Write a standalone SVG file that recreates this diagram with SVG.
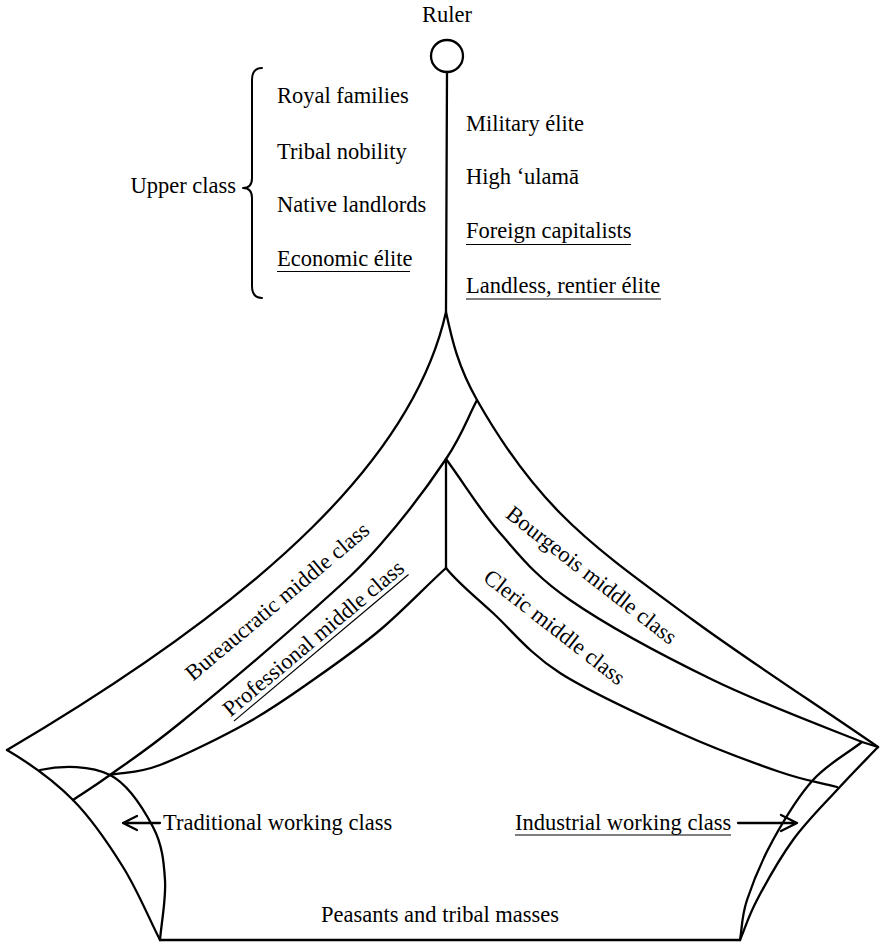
<svg xmlns="http://www.w3.org/2000/svg" width="880" height="943" viewBox="0 0 880 943">
<style>
.ln{fill:none;stroke:#000;stroke-width:2.3;stroke-linecap:round;stroke-linejoin:round}
.ul{stroke:#000;stroke-width:1.2}
text{font-family:"Liberation Serif","Times New Roman",serif;font-size:22.5px;fill:#000}
</style>
<rect width="880" height="943" fill="#fff"/>
<g id="connectors">
<path id="stem" class="ln" d="M447,72 L446,312"/>
<path id="stem2" class="ln" d="M446,459 L446,568"/>
<path id="lineA" class="ln" d="M446,312 C452,340 458,366.5 477,400 C496,433.5 524,476.3 560,513 C596,549.7 639.7,580.8 693,620 C746.3,659.2 817.7,705.3 878,747"/>
<path id="lineB" class="ln" d="M446,459 C466,486 479.3,509.5 500,533 C520.7,556.5 534.5,575.5 570,600 C605.5,624.5 664.3,656.3 713,680 C761.7,703.7 834.5,730.8 862,742 L878,747"/>
<path id="lineC" class="ln" d="M446,568 C458,583 474,595.5 493,613 C512,630.5 528.8,653 560,673 C591.2,693 643.3,716.5 680,733 C716.7,749.5 753.8,763 780,772 C806.2,781 818,782 837,787"/>
<path id="lineL1" class="ln" d="M446,312 C414,455 270,595 7,750"/>
<path id="lineS" class="ln" d="M477,400 C466.7,419.7 462.2,434.8 446,459 C429.8,483.2 402.2,519.8 380,545 C357.8,570.2 346.3,580.3 313,610 C279.7,639.7 213.8,695.5 180,723 C146.2,750.5 127.8,762.2 110,775 C92.2,787.8 85.3,791.7 73,800"/>
<path id="lineP" class="ln" d="M446,568 C424,588 402.2,611.3 380,630 C357.8,648.7 335.2,664.5 313,680 C290.8,695.5 272.5,708.8 247,723 C221.5,737.2 182.8,756.3 160,765 C137.2,773.7 126.7,771.7 110,775"/>
<path id="outerLeftLow" class="ln" d="M7,750 C29,763 53.7,780.5 73,800 C92.3,819.5 108.5,843.7 123,867 C137.5,890.3 147.7,915.7 160,940"/>
<path id="tradArc" class="ln" d="M40,770 C63,765 91.2,765.5 110,775 C128.8,784.5 143.8,809.5 153,827 C162.2,844.5 163.8,861.2 165,880 C166.2,898.8 161.7,920 160,940"/>
<path id="bottom" class="ln" d="M160,940 L740,940"/>
<path id="outerRightLow" class="ln" d="M878,747 C864.3,761.3 851.2,774.5 837,790 C822.8,805.5 806.3,821.7 793,840 C779.7,858.3 765.8,883.3 757,900 C748.2,916.7 745.7,926.7 740,940"/>
<path id="indArc" class="ln" d="M862,742 C845.7,754.7 827.8,763.7 813,780 C798.2,796.3 784,820 773,840 C762,860 752.5,883.3 747,900 C741.5,916.7 742.3,926.7 740,940"/>
<path id="arrowTrad" class="ln" d="M160,823 L123,823 M137,816 L123,823 L137,830"/>
<path id="arrowInd" class="ln" d="M738,823 L797,823 M781,815 L797,823 L781,831"/>
</g>
<g id="ruler">
<text x="447" y="22" text-anchor="middle">Ruler</text>
<circle cx="447" cy="56" r="16" class="ln"/>
</g>
<g id="upper-class">
<text x="236" y="193" text-anchor="end">Upper class</text>
<path class="ln" style="stroke-width:2" d="M262,68 Q252,68 252,80 L252,178 Q252,188 243,188 Q252,188 252,198 L252,286 Q252,298 262,298"/>
<text x="277" y="103">Royal families</text>
<text x="277" y="159">Tribal nobility</text>
<text x="277" y="212">Native landlords</text>
<text x="277" y="266">Economic élite</text>
<line class="ul" x1="277" y1="271.5" x2="410" y2="271.5"/>
</g>
<g id="right-elite">
<text x="466" y="131">Military élite</text>
<text x="466" y="184">High ‘ulamā</text>
<text x="466" y="238">Foreign capitalists</text>
<line class="ul" x1="466" y1="244.5" x2="631" y2="244.5"/>
<text x="466" y="293">Landless, rentier élite</text>
<line class="ul" x1="466" y1="299" x2="661" y2="299"/>
</g>
<g id="bureaucratic">
<text transform="translate(282,607) rotate(-40)" text-anchor="middle">Bureaucratic middle class</text>
</g>
<g id="professional" transform="translate(318,644) rotate(-40)">
<text x="0" y="0" text-anchor="middle">Professional middle class</text>
<line class="ul" x1="-114" y1="5" x2="114" y2="5"/>
</g>
<g id="bourgeois">
<text transform="translate(587,581) rotate(38)" text-anchor="middle">Bourgeois middle class</text>
</g>
<g id="cleric">
<text transform="translate(550,633) rotate(38)" text-anchor="middle">Cleric middle class</text>
</g>
<g id="traditional">
<text x="163" y="830">Traditional working class</text>
</g>
<g id="industrial">
<text x="515" y="830">Industrial working class</text>
<line class="ul" x1="515" y1="835" x2="731" y2="835"/>
</g>
<g id="peasants">
<text x="440" y="922" text-anchor="middle">Peasants and tribal masses</text>
</g>
</svg>
